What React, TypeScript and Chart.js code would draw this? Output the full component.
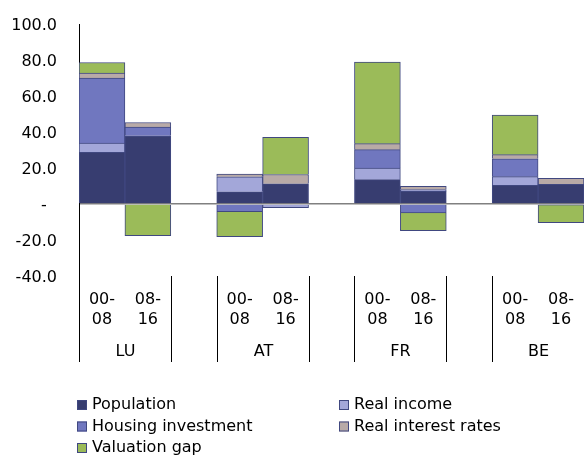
import React, { useEffect, useRef } from 'react';
import { Chart, registerables } from 'chart.js';

Chart.register(...registerables);

const countries = ['LU', 'AT', 'FR', 'BE'];
const periodLabels: (string | string[])[] = [
  ['00-', '08'], ['08-', '16'], '',
  ['00-', '08'], ['08-', '16'], '',
  ['00-', '08'], ['08-', '16'], '',
  ['00-', '08'], ['08-', '16'],
];
const groupStarts = [0, 3, 6, 9];

const population = [28.7, 37.6, null, 6.8, 11.2, null, 13.5, 7.0, null, 10.4, 10.9];
const realIncome = [5.2, 0.3, null, 8.3, -2.0, null, 6.5, 1.0, null, 4.8, 0];
const housingInvestment = [36.0, 4.9, null, -4.3, 0, null, 10.2, -5.0, null, 9.9, -0.6];
const realInterestRates = [2.8, 2.5, null, 1.5, 5.2, null, 3.3, 1.8, null, 2.3, 3.4];
const valuationGap = [5.9, -17.6, null, -13.9, 20.7, null, 45.4, -9.8, null, 22.0, -9.8];

const seriesNames = ['Population', 'Real income', 'Housing investment', 'Real interest rates', 'Valuation gap'];
const seriesColors = ['#373D70', '#A3A7D9', '#7077BF', '#B8AAA7', '#9BBB59'];

const yTicks = [-40, -20, 0, 20, 40, 60, 80, 100];

const FONT = '"DejaVu Sans", Verdana, sans-serif';

const overlayPlugin = {
  id: 'overlay',
  afterDraw(chart: any) {
    const ctx = chart.ctx;
    const xs = chart.scales.x;
    const area = chart.chartArea;
    const catW = xs.getPixelForValue(1) - xs.getPixelForValue(0);
    ctx.save();
    ctx.strokeStyle = '#000';
    ctx.lineWidth = 1;
    ctx.fillStyle = '#000';
    ctx.font = `16px ${FONT}`;
    ctx.textAlign = 'center';
    ctx.textBaseline = 'middle';
    const sepTop = area.bottom;
    const sepBottom = 362;
    groupStarts.forEach((g, i) => {
      const left = Math.round(xs.getPixelForValue(g) - catW / 2) + 0.5;
      const right = Math.round(xs.getPixelForValue(g + 1) + catW / 2) + 0.5;
      [left, right].forEach((x) => {
        ctx.beginPath();
        ctx.moveTo(x, sepTop);
        ctx.lineTo(x, sepBottom);
        ctx.stroke();
      });
      ctx.fillText(countries[i], (left + right) / 2, 352);
    });
    ctx.textAlign = 'left';
    const colX = [area.left - 2, area.left + 260];
    const rowY = [405, 426.5, 448];
    seriesNames.forEach((name, i) => {
      const col = i % 2;
      const row = Math.floor(i / 2);
      const x = colX[col];
      const y = rowY[row];
      ctx.fillStyle = seriesColors[i];
      ctx.fillRect(x, y - 5, 10, 10);
      ctx.strokeStyle = '#404880';
      ctx.strokeRect(x + 0.5, y - 4.5, 9, 9);
      ctx.fillStyle = '#000';
      ctx.fillText(name, x + 15, y);
    });
    ctx.restore();
  },
};

export default function App() {
  const ref = useRef<HTMLCanvasElement>(null);
  useEffect(() => {
    if (!ref.current) return;
    const datasets = [population, realIncome, housingInvestment, realInterestRates, valuationGap].map((data, i) => ({
      label: seriesNames[i],
      data,
      backgroundColor: seriesColors[i],
      borderColor: '#404880',
      borderWidth: 1,
      barPercentage: 1,
      categoryPercentage: 1,
    }));
    const chart = new Chart(ref.current, {
      type: 'bar',
      data: { labels: periodLabels as any, datasets: datasets as any },
      options: {
        animation: false,
        responsive: false,
        devicePixelRatio: 1,
        layout: { padding: { top: 24, bottom: 93, left: 0, right: 0 } },
        plugins: { legend: { display: false }, tooltip: { enabled: false } },
        scales: {
          x: {
            stacked: true,
            grid: { display: false, drawTicks: false },
            border: { display: false },
            ticks: {
              color: '#000',
              font: { family: FONT, size: 16, lineHeight: 1.25 },
              padding: 14,
              maxRotation: 0,
              autoSkip: false,
            },
            afterFit: (s: any) => {
              s.height = 88;
              s.paddingLeft = 0;
              s.paddingRight = 0;
            },
          },
          y: {
            stacked: true,
            min: -40,
            max: 100,
            afterBuildTicks: (s: any) => { s.ticks = yTicks.map((v) => ({ value: v })); },
            grid: {
              drawTicks: false,
              color: (c: any) => (c.tick && c.tick.value === 0 ? '#808080' : 'rgba(0,0,0,0)'),
              lineWidth: 1.5,
            },
            border: { display: true, color: '#000', width: 1 },
            ticks: {
              color: '#000',
              font: { family: FONT, size: 16 },
              padding: 22,
              labelOffset: 1.5,
              callback: (v: any) => (Number(v) === 0 ? '-  ' : Number(v).toFixed(1)),
            },
            afterFit: (s: any) => {
              s.width = 79;
              s.paddingTop = 0;
              s.paddingBottom = 0;
            },
          },
        },
      },
      plugins: [overlayPlugin],
    });
    return () => chart.destroy();
  }, []);
  return (
    <div style={{ position: 'fixed', left: 0, top: 0, width: 584, height: 457, background: '#fff' }}>
      <canvas ref={ref} width={584} height={457} />
    </div>
  );
}
